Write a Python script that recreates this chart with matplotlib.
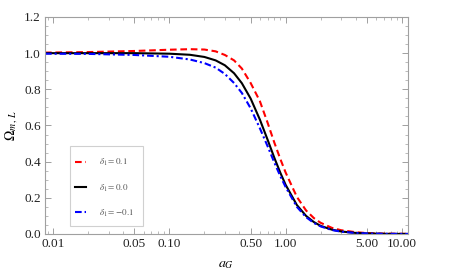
import matplotlib
matplotlib.use('Agg')
import matplotlib.pyplot as plt
from matplotlib.patches import Rectangle
from matplotlib.ticker import FixedLocator, FixedFormatter, NullFormatter

plt.rcParams['font.family'] = ['Liberation Serif', 'DejaVu Serif']
plt.rcParams['mathtext.fontset'] = 'stix'

# scale factor a_G and Omega_m for the three delta_1 values
a_vals = [0.0085, 0.02, 0.05, 0.1, 0.15, 0.2, 0.25, 0.3, 0.36, 0.42, 0.5, 0.6, 0.7,
          0.8, 0.9, 1.0, 1.25, 1.5, 1.75, 2.0, 2.5, 3.0, 4.0, 5.0, 7.0, 10.0, 11.3]
om_p01 = [1.003, 1.006, 1.012, 1.019, 1.022, 1.02, 1.01, 0.99, 0.96, 0.915, 0.835, 0.735, 0.615,
          0.505, 0.415, 0.34, 0.205, 0.13, 0.088, 0.062, 0.034, 0.021, 0.01, 0.005, 0.002, 0.001, 0.001]
om_00 = [1.0, 1.0, 1.0, 0.997, 0.991, 0.979, 0.96, 0.933, 0.889, 0.834, 0.749, 0.633, 0.521,
         0.421, 0.339, 0.272, 0.16, 0.10, 0.066, 0.045, 0.024, 0.014, 0.006, 0.003, 0.001, 0.0004, 0.0003]
om_m01 = [0.997, 0.996, 0.99, 0.98, 0.965, 0.945, 0.92, 0.885, 0.835, 0.78, 0.695, 0.585, 0.485,
          0.395, 0.32, 0.26, 0.15, 0.093, 0.061, 0.042, 0.022, 0.013, 0.0055, 0.003, 0.001, 0.0004, 0.0003]

labels = [r'$\delta_1 = 0.1$', r'$\delta_1 = 0.0$', r'$\delta_1 = -0.1$']
xticks = [0.01, 0.05, 0.1, 0.5, 1, 5, 10]
xtick_labels = ['0.01', '0.05', '0.10', '0.50', '1.00', '5.00', '10.00']
yticks = [0.0, 0.2, 0.4, 0.6, 0.8, 1.0, 1.2]

fig = plt.figure(figsize=(4.55, 2.74), dpi=100)
ax = fig.add_axes([0.0989, 0.146, 0.7978, 0.792])

l1, = ax.plot(a_vals, om_p01, color='red', ls=(0, (3.2, 1.8)), lw=1.5)
l2, = ax.plot(a_vals, om_00, color='black', ls='-', lw=1.5)
l3, = ax.plot(a_vals, om_m01, color='blue', ls=(0, (3.2, 1.4, 1, 1.4)), lw=1.5)

ax.set_xscale('log')
ax.set_xlim(0.0085, 11.3)
ax.set_ylim(0, 1.2)

ax.xaxis.set_major_locator(FixedLocator(xticks))
ax.xaxis.set_major_formatter(FixedFormatter(xtick_labels))
minor = [m * 10.0 ** e for e in range(-3, 2) for m in range(1, 10)]
minor = [v for v in minor if v not in xticks and 0.0085 <= v <= 11.3]
ax.xaxis.set_minor_locator(FixedLocator(minor))
ax.xaxis.set_minor_formatter(NullFormatter())
ax.set_yticks(yticks)
ax.set_yticklabels(['0.0', '0.2', '0.4', '0.6', '0.8', '1.0', '1.2'])
ax.set_yticks([i * 0.05 for i in range(25)], minor=True)

for s in ax.spines.values():
    s.set_color('#a0a0a0')
    s.set_linewidth(0.8)
ax.tick_params(which='both', direction='in', top=True, right=True, color='#a0a0a0',
               labelsize=9.5, labelcolor='#222222', pad=3)
ax.tick_params(which='major', length=4, width=0.7)
ax.tick_params(which='minor', length=2.2, width=0.5)

ax.set_xlabel(r'$a_G$', fontsize=10, labelpad=6)
ax.set_ylabel(r'$\Omega_{m\,,\,L}$', fontsize=10, labelpad=3)

ax.add_patch(Rectangle((0.069, 0.038), 0.201, 0.368, transform=ax.transAxes,
                       fill=False, edgecolor='#d0d0d0', lw=0.8, zorder=5))
leg = ax.legend([l1, l2, l3], labels, loc='center left', bbox_to_anchor=(0.069, 0.212),
                frameon=False, fontsize=6.5, labelspacing=1.55, handlelength=1.3,
                handletextpad=1.4, borderaxespad=0, borderpad=0.5)
for t in leg.get_texts():
    t.set_color('#555555')

plt.savefig('out.png', dpi=100)
